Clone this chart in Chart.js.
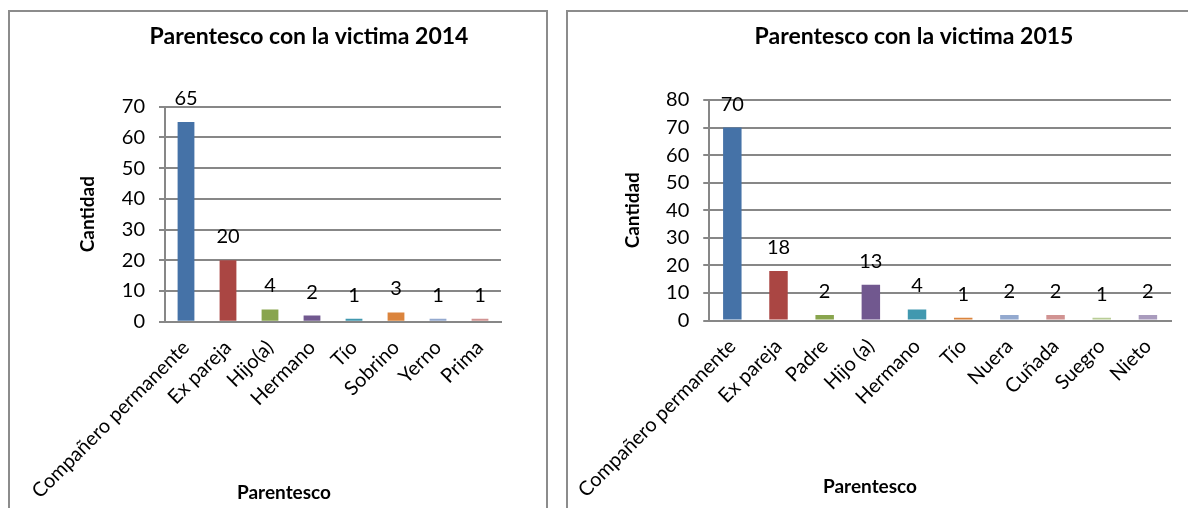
<!DOCTYPE html>
<html>
<head>
<meta charset="utf-8">
<script src="https://cdn.jsdelivr.net/npm/chart.js@4.4.1/dist/chart.umd.min.js"></script>
<style>
  body { margin: 0; background: #fff; width: 1188px; height: 508px; overflow: hidden; position: relative; }
  .caixa { position: absolute; border: 2px solid #8c8c8c; box-sizing: border-box; }
  canvas { position: absolute; }
</style>
</head>
<body>
<div class="caixa" style="left:8px; top:10px; width:540px; height:520px;"></div>
<div class="caixa" style="left:566px; top:10px; width:700px; height:520px;"></div>
<canvas id="grafico2014" width="536" height="496" style="left:10px; top:12px;"></canvas>
<canvas id="grafico2015" width="619" height="496" style="left:569px; top:12px;"></canvas>
<script>
const categorias2014 = ['Compañero permanente', 'Ex pareja', 'Hijo(a)', 'Hermano', 'Tío', 'Sobrino', 'Yerno', 'Prima']
const valores2014 = [65, 20, 4, 2, 1, 3, 1, 1]
const maxY2014 = 70

const categorias2015 = ['Compañero permanente', 'Ex pareja', 'Padre', 'Hijo (a)', 'Hermano', 'Tío', 'Nuera', 'Cuñada', 'Suegro', 'Nieto']
const valores2015 = [70, 18, 2, 13, 4, 1, 2, 2, 1, 2]
const maxY2015 = 80

const passoY = 10

// cores das barras (paleta do Excel)
const cores2014 = ['#4572A7', '#AA4643', '#89A54E', '#71588F', '#4198AF', '#DB843D', '#93A9CF', '#D19392']
const cores2015 = ['#4572A7', '#AA4643', '#89A54E', '#71588F', '#4198AF', '#DB843D', '#93A9CF', '#D19392', '#B9CD96', '#A99BBD']

const cinza = '#878787'

// rótulos com o valor em cima de cada barra
const rotulos = {
    id: 'rotulos',
    afterDatasetsDraw(chart) {
        let ctx = chart.ctx
        let dados = chart.data.datasets[0].data
        ctx.save()
        ctx.font = '20px Lato'
        ctx.fillStyle = '#000'
        ctx.textAlign = 'center'
        ctx.textBaseline = 'alphabetic'
        chart.getDatasetMeta(0).data.forEach((barra, i) => {
            ctx.fillText(dados[i], barra.x, barra.y - 17)
        })
        ctx.restore()
    }
}

// título do eixo x (no Excel não fica centrado na área do gráfico)
const tituloX = {
    id: 'tituloX',
    afterDraw(chart, args, opts) {
        let ctx = chart.ctx
        ctx.save()
        ctx.font = 'bold 19px Lato'
        ctx.fillStyle = '#000'
        ctx.textAlign = 'center'
        ctx.textBaseline = 'middle'
        ctx.fillText(opts.texto, opts.x, opts.y)
        ctx.restore()
    }
}

function criarGrafico(id, categorias, valores, cores, maxY, titulo, m) {
    let ctx = document.getElementById(id).getContext('2d')
    return new Chart(ctx, {
        type: 'bar',
        data: {
            labels: categorias,
            datasets: [{
                data: valores,
                backgroundColor: cores,
                categoryPercentage: 1,
                barPercentage: 0.4
            }]
        },
        options: {
            responsive: false,
            animation: false,
            layout: { padding: { left: m.padEsq, right: m.padDir, top: 0, bottom: 0 } },
            plugins: {
                legend: { display: false },
                tooltip: { enabled: false },
                title: {
                    display: true,
                    text: titulo,
                    color: '#000',
                    font: { size: 23, weight: 'bold' },
                    padding: { top: 11.2, bottom: m.titBaixo }
                },
                tituloX: { texto: 'Parentesco', x: m.xTitX, y: m.yTitX }
            },
            scales: {
                x: {
                    grid: { display: false },
                    border: { display: true, color: cinza, width: 2 },
                    ticks: {
                        color: '#000',
                        font: { size: 20 },
                        minRotation: 45,
                        maxRotation: 45,
                        autoSkip: false,
                        padding: 6
                    },
                    afterFit: (s) => { s.height = m.altX }
                },
                y: {
                    min: 0,
                    max: maxY,
                    grid: { color: cinza, lineWidth: 2, tickLength: 6 },
                    border: { display: true, color: cinza, width: 2 },
                    ticks: {
                        stepSize: passoY,
                        color: '#000',
                        font: { size: 20 },
                        padding: 14
                    },
                    title: {
                        display: true,
                        text: 'Cantidad',
                        color: '#000',
                        font: { size: 19, weight: 'bold' },
                        padding: { top: m.padTitY, bottom: 0 }
                    },
                    afterFit: (s) => { s.width = m.largY }
                }
            }
        },
        plugins: [rotulos, tituloX]
    })
}

Chart.defaults.font.family = 'Lato'
Chart.defaults.color = '#000'

document.fonts.load('20px Lato').then(() => document.fonts.load('bold 20px Lato')).then(() => {
    criarGrafico('grafico2014', categorias2014, valores2014, cores2014, maxY2014, 'Parentesco con la victima 2014',
        { padEsq: 107, padDir: 45, titBaixo: 55.9, largY: 48, padTitY: -40.4, altX: 186.3, xTitX: 274, yTitX: 481 })
    criarGrafico('grafico2015', categorias2015, valores2015, cores2015, maxY2015, 'Parentesco con la victima 2015',
        { padEsq: 88, padDir: 17, titBaixo: 49.2, largY: 46, padTitY: -41.4, altX: 187.5, xTitX: 301, yTitX: 475 })
})
</script>
</body>
</html>
